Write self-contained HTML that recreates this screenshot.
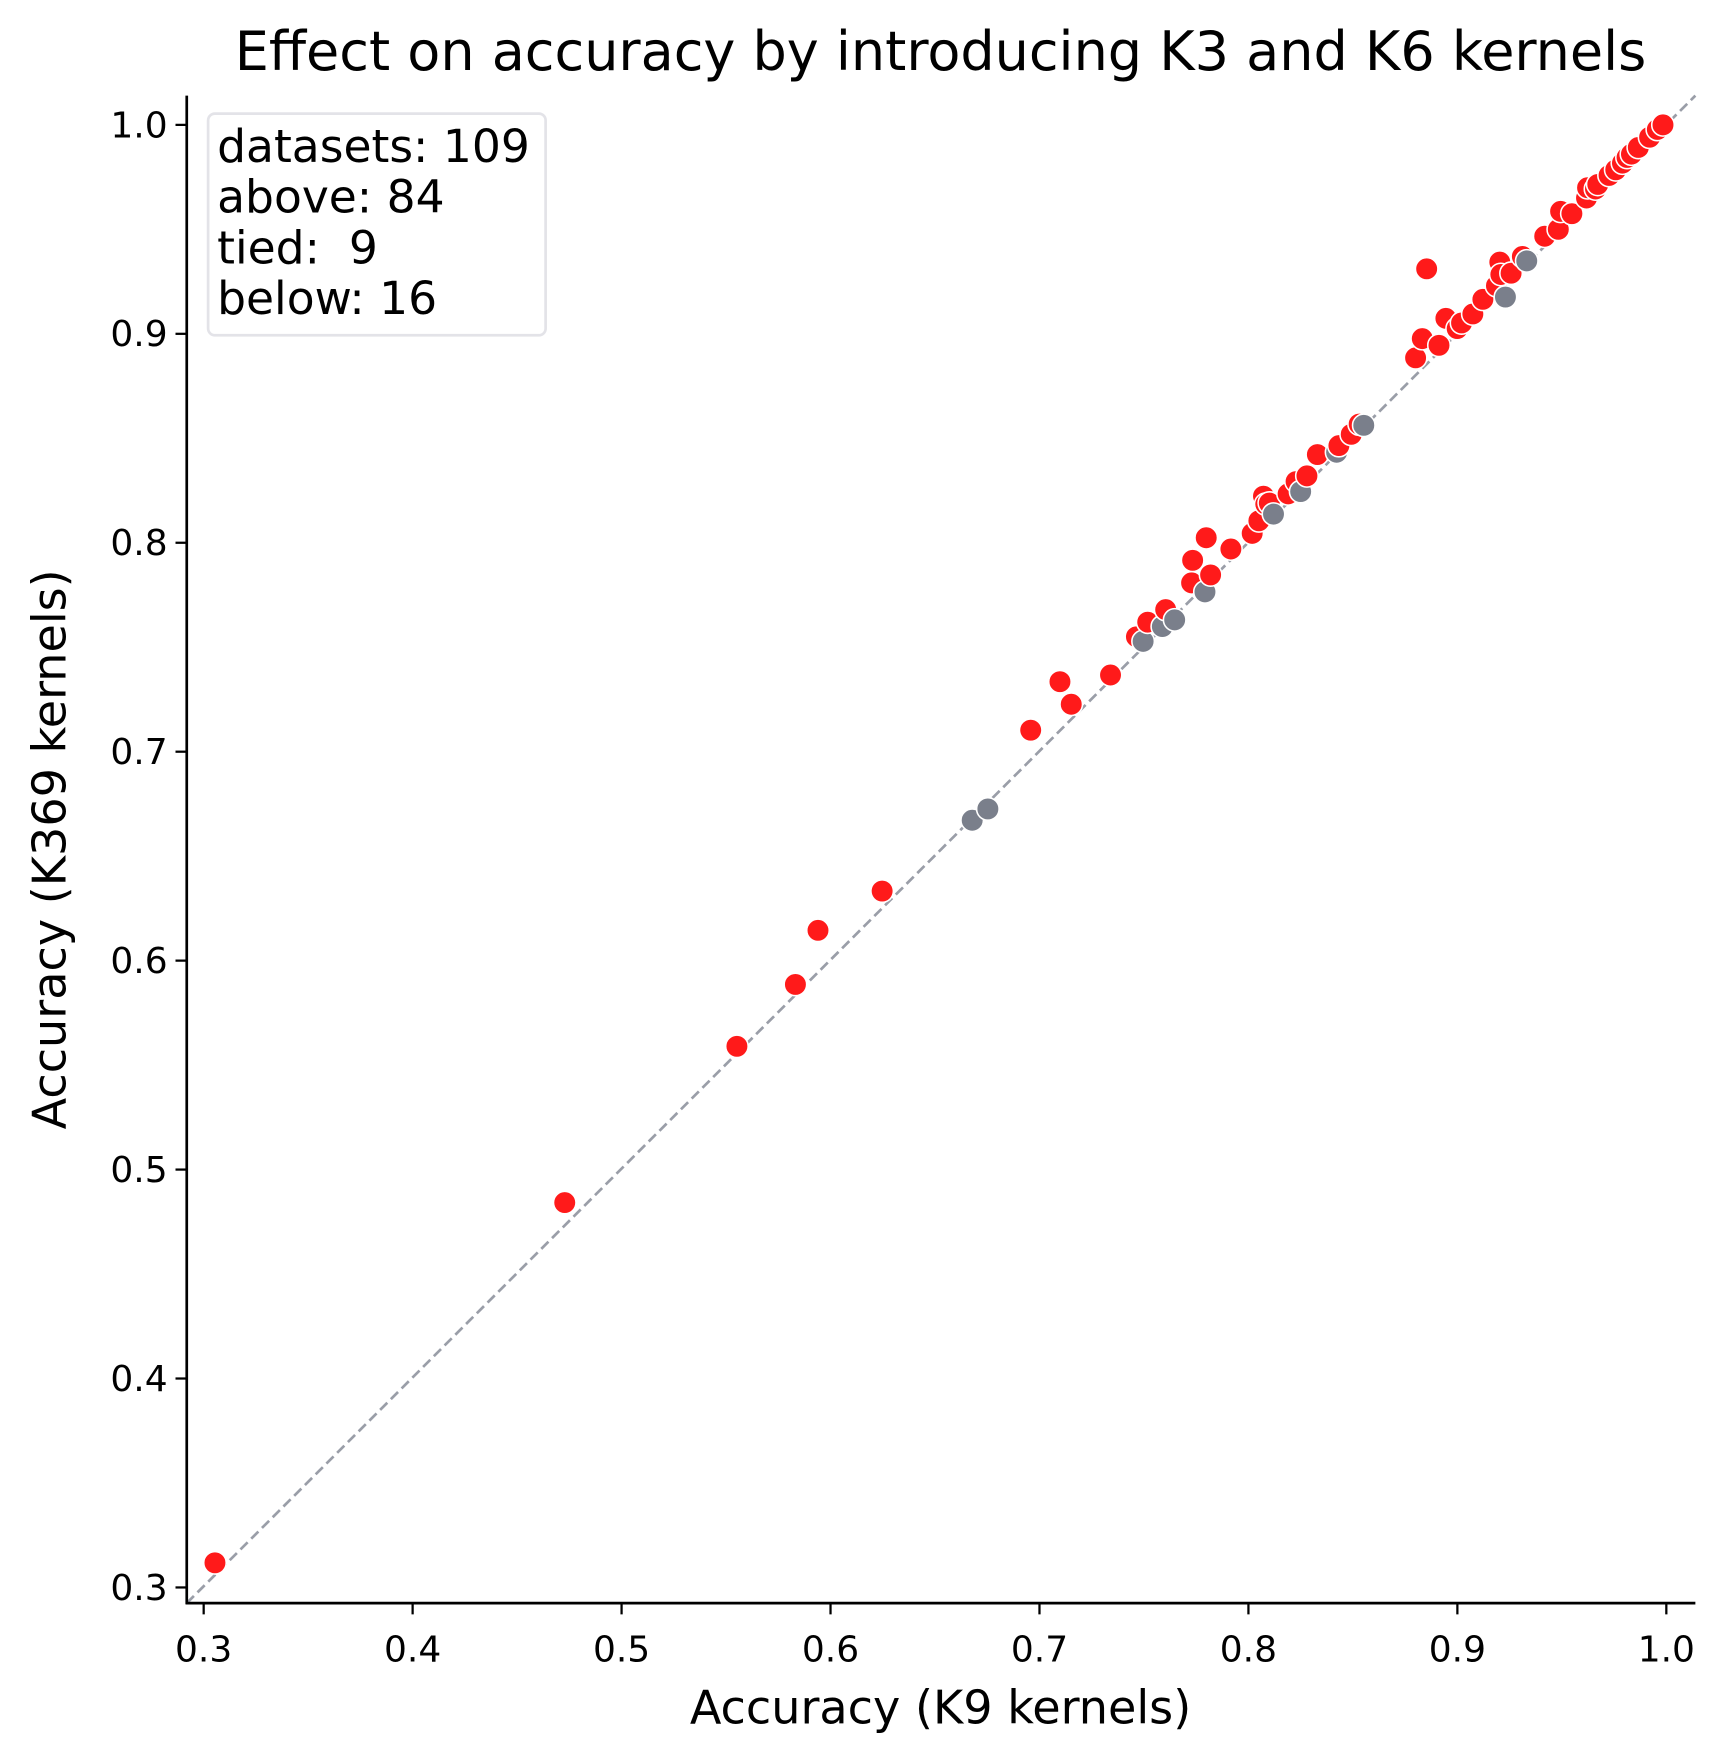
<!DOCTYPE html>
<html><head><meta charset="utf-8"><style>
html,body{margin:0;padding:0;background:#fff;overflow:hidden;}
svg{display:block;font-family:"DejaVu Sans","Liberation Sans",sans-serif;}
</style></head><body>
<svg id="chart" width="1728" height="1764" viewBox="0 0 1536 1568"></svg>
<script>
const xTicks=[0.3,0.4,0.5,0.6,0.7,0.8,0.9,1.0];
const yTicks=[0.3,0.4,0.5,0.6,0.7,0.8,0.9,1.0];
const tickLabels=["0.3","0.4","0.5","0.6","0.7","0.8","0.9","1.0"];
const redX=[0.3054,0.4728,0.5552,0.5832,0.594,0.6247,0.6958,0.7098,0.7152,0.734,0.7464,0.7518,0.7604,0.7728,0.7733,0.7798,0.7819,0.7916,0.8018,0.805,0.8072,0.8083,0.81,0.819,0.8228,0.828,0.833,0.8433,0.8492,0.853,0.88,0.8832,0.8853,0.8912,0.8945,0.8999,0.902,0.9074,0.9122,0.9187,0.9203,0.9208,0.9257,0.9311,0.9418,0.9483,0.9494,0.9548,0.9618,0.9623,0.9661,0.9672,0.9726,0.9758,0.979,0.9812,0.9833,0.9866,0.992,0.9957,0.9984];
const redY=[0.3118,0.4842,0.559,0.5886,0.6145,0.6333,0.7103,0.7335,0.7227,0.7367,0.755,0.762,0.768,0.7808,0.7916,0.8024,0.7846,0.797,0.8045,0.8105,0.8223,0.8185,0.819,0.8234,0.8293,0.832,0.8422,0.8465,0.8519,0.8568,0.8885,0.8977,0.9311,0.8945,0.9074,0.9025,0.9052,0.9095,0.9165,0.923,0.9343,0.9284,0.929,0.937,0.9467,0.95,0.9586,0.9575,0.965,0.9699,0.9693,0.9715,0.9758,0.9785,0.9817,0.9844,0.986,0.9892,0.9941,0.9978,1.0];
const grayX=[0.6678,0.6753,0.7496,0.7588,0.7647,0.7792,0.812,0.825,0.8422,0.8552,0.923,0.9332];
const grayY=[0.6672,0.6726,0.7528,0.7599,0.7631,0.7765,0.8137,0.8245,0.8433,0.8562,0.9176,0.9349];

const NS="http://www.w3.org/2000/svg";
const svg=document.getElementById('chart');
const L=166,R=1507,T=85,B=1425;
const x0=0.2919,x1=1.0139,y0=0.2925,y1=1.014;
const sx=v=>L+(v-x0)/(x1-x0)*(R-L);
const sy=v=>B-(v-y0)/(y1-y0)*(B-T);
function el(tag,attrs,parent){const e=document.createElementNS(NS,tag);for(const k in attrs)e.setAttribute(k,attrs[k]);(parent||svg).appendChild(e);return e;}

const diag=el('line',{x1:L,y1:B,x2:R,y2:T,stroke:'#9a9ea8','stroke-width':2.4,'stroke-dasharray':'9,4.5'});



const gPts=el('g',{});


const all=[];
redX.forEach((v,i)=>all.push([v,redY[i],'#ff1a1a','point-above']));
grayX.forEach((v,i)=>all.push([v,grayY[i],'#7a7f8b','point-tied']));
all.sort((a,b)=>a[0]-b[0]);
all.forEach(p=>{
  const c=el('circle',{cx:sx(p[0]),cy:sy(p[1]),r:10,fill:p[2],stroke:'#fff','stroke-width':1.4},gPts);
  
  
});

const sl=el('line',{x1:L,y1:T,x2:L,y2:B+1,stroke:'#000','stroke-width':2.4});


const sb=el('line',{x1:L-1,y1:B,x2:R,y2:B,stroke:'#000','stroke-width':2.4});



xTicks.forEach((v,i)=>{
  el('line',{x1:sx(v),y1:B,x2:sx(v),y2:B+10,stroke:'#000','stroke-width':2});
  const t=el('text',{x:sx(v),y:B+52,'text-anchor':'middle','font-size':32,fill:'#000'});
  t.textContent=tickLabels[i];
  
  
});
yTicks.forEach((v,i)=>{
  el('line',{x1:L-10,y1:sy(v),x2:L,y2:sy(v),stroke:'#000','stroke-width':2});
  const t=el('text',{x:L-17,y:sy(v)+11,'text-anchor':'end','font-size':32,fill:'#000'});
  t.textContent=tickLabels[i];
  
  
});

const lg=el('g',{});


el('rect',{x:185,y:101,width:300,height:197,rx:6,fill:'#fff','fill-opacity':0.8,stroke:'#e3e3e8','stroke-width':2.4},lg);
["datasets: 109","above: 84","tied:  9","below: 16"].forEach((s,i)=>{
  const t=el('text',{x:193,y:144+i*45,'font-size':40.5,fill:'#000'},lg);
  t.style.whiteSpace='pre';
  t.textContent=s;
});

const title=el('text',{x:836,y:62,'text-anchor':'middle','font-size':48,fill:'#000'});
title.textContent='Effect on accuracy by introducing K3 and K6 kernels';



const xl=el('text',{x:836,y:1532,'text-anchor':'middle','font-size':41,fill:'#000'});
xl.textContent='Accuracy (K9 kernels)';



const yl=el('text',{x:0,y:0,'text-anchor':'middle','font-size':41,fill:'#000',transform:'translate(58,755) rotate(-90)'});
yl.textContent='Accuracy (K369 kernels)';


</script>
</body></html>
